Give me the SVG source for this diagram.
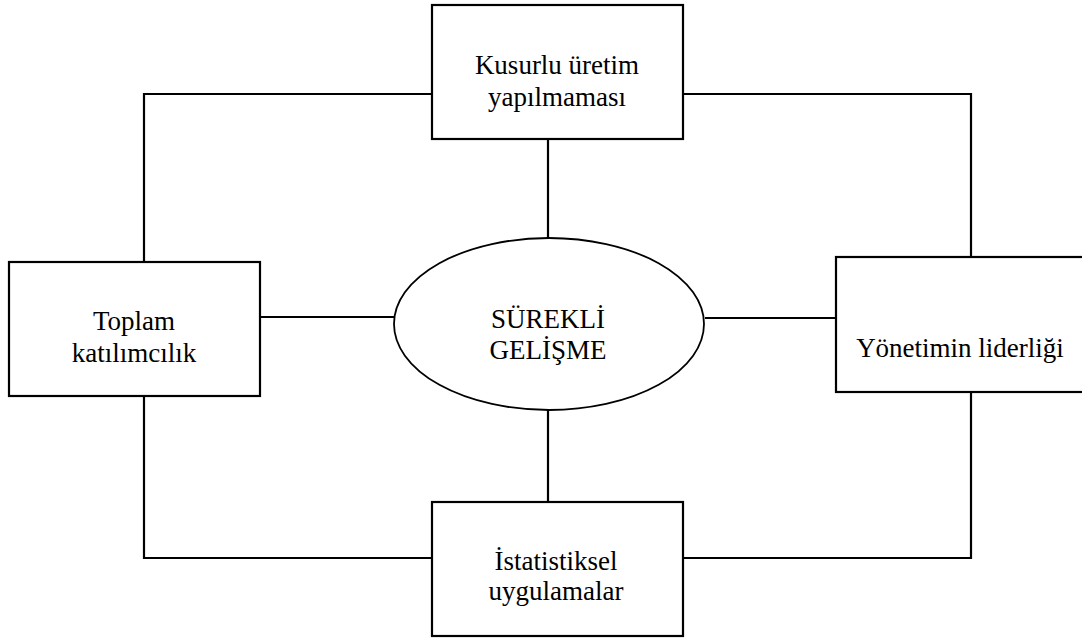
<svg xmlns="http://www.w3.org/2000/svg" width="1082" height="639" viewBox="0 0 1082 639">
  <style>
    .box { fill: #ffffff; stroke: #000000; stroke-width: 2.2; }
    .oval { fill: #ffffff; stroke: #000000; stroke-width: 1.8; }
    .link { fill: none; stroke: #000000; stroke-width: 2.2; }
    .lbl { font-size: 27px; fill: #000000; text-anchor: middle; }
  </style>
  <rect width="1082" height="639" fill="#ffffff"/>

  <!-- connectors -->
  <g id="connectors">
    <!-- outer ring -->
    <polyline class="link" points="432,94 144,94 144,262"/>
    <polyline class="link" points="683,94 971,94 971,257"/>
    <polyline class="link" points="144,396 144,558 432,558"/>
    <polyline class="link" points="971,392 971,558 683,558"/>
    <!-- spokes to the centre -->
    <line class="link" x1="548" y1="139" x2="548" y2="238"/>
    <line class="link" x1="548" y1="410" x2="548" y2="502"/>
    <line class="link" x1="260" y1="317" x2="394" y2="317"/>
    <line class="link" x1="705" y1="318" x2="836" y2="318"/>
  </g>

  <g font-family="'Liberation Serif', 'Times New Roman', serif">
    <g id="node-center">
      <ellipse class="oval" cx="549" cy="324" rx="155" ry="86"/>
      <text class="lbl" x="548" y="328">SÜREKLİ</text>
      <text class="lbl" x="548" y="359">GELİŞME</text>
    </g>

    <g id="node-top">
      <rect class="box" x="432" y="5" width="251" height="134"/>
      <text class="lbl" x="557" y="74">Kusurlu üretim</text>
      <text class="lbl" x="557" y="106">yapılmaması</text>
    </g>

    <g id="node-left">
      <rect class="box" x="9" y="262" width="251" height="134"/>
      <text class="lbl" x="134" y="330">Toplam</text>
      <text class="lbl" x="134" y="362">katılımcılık</text>
    </g>

    <g id="node-right">
      <rect class="box" x="836" y="257" width="251" height="135"/>
      <text class="lbl" x="960" y="357">Yönetimin liderliği</text>
    </g>

    <g id="node-bottom">
      <rect class="box" x="432" y="502" width="251" height="134"/>
      <text class="lbl" x="556" y="570">İstatistiksel</text>
      <text class="lbl" x="556" y="600">uygulamalar</text>
    </g>
  </g>
</svg>
